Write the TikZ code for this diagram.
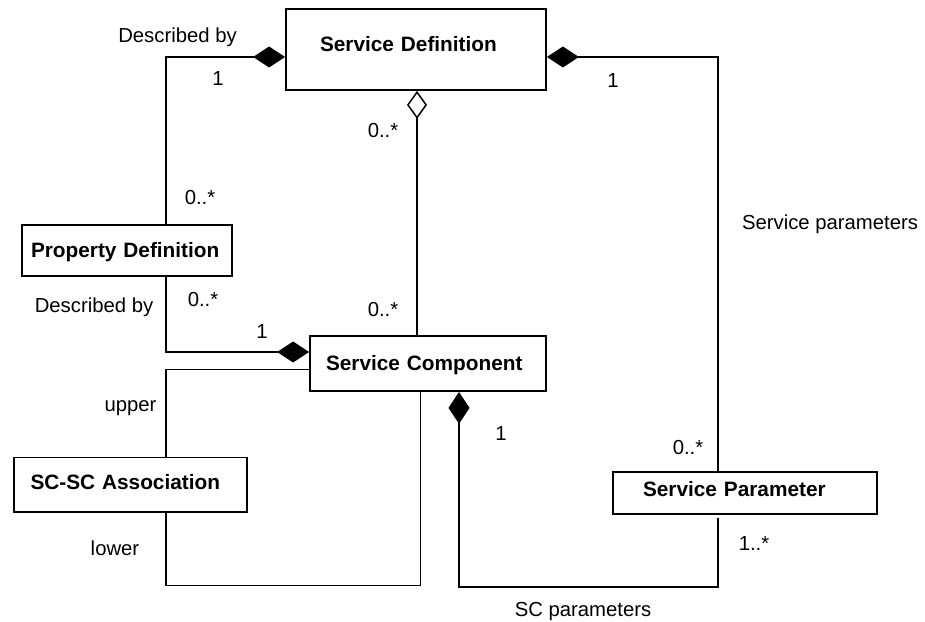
\documentclass[tikz,border=0pt]{standalone}
\usepackage{fontspec}
\setmainfont{Liberation Sans}
\usetikzlibrary{arrows.meta}
\begin{document}
\begin{tikzpicture}[x=1pt,y=1pt,
  box/.style={draw=black,line width=1.8pt,rectangle,inner ysep=0pt,align=left,
    font=\fontsize{20.8}{24}\selectfont\bfseries},
  lbl/.style={inner sep=0pt,anchor=base,font=\fontsize{20.3}{24}\selectfont},
  conn/.style={draw=black,line width=1.5pt},
  comp/.style={conn,arrows={Diamond[length=32pt,width=21pt]-}},
  agg/.style={conn,arrows={Diamond[open,length=28pt,width=20pt]-}}]
\useasboundingbox (0,0) rectangle (925,621);
% boxes
\node[box,inner xsep=34pt,text width=192pt,text height=42.7pt,text depth=38.3pt] (SD) at (416,571.5) {\mbox{Service Definition}};
\node[box,inner xsep=9pt,text width=192pt,text height=32.5pt,text depth=18.5pt] (PD) at (127,370.5) {\mbox{Property Definition}};
\node[box,inner xsep=16pt,text width=204pt,text height=35pt,text depth=20pt] (SC) at (428,257.5) {\mbox{Service Component}};
\node[box,inner xsep=16.5pt,text width=200pt,text height=31.7pt,text depth=22.5pt] (SCSC) at (130.5,136.4) {\mbox{SC-SC Association}};
\node[box,inner xsep=30pt,text width=204pt,text height=24.8pt,text depth=17.2pt] (SP) at (745,128) {\mbox{Service Parameter}};
% helper coordinates for bottom runs
\coordinate (low1) at (0,35.5);
\coordinate (low2) at (0,34);
% connectors
\draw[comp] ([yshift=-7.5pt]SD.west) -| ([xshift=39pt]PD.north);
\draw[agg] ([xshift=1pt]SD.south) -- ([xshift=1pt]SD.south |- SC.north);
\draw[comp] ([yshift=-7.5pt]SD.east) -| ([xshift=-27pt]SP.north);
\draw[comp] ([yshift=11.5pt]SC.west) -| ([xshift=39pt]PD.south);
\draw[conn] ([yshift=-6pt]SC.west) -| ([xshift=35.5pt]SCSC.north);
\draw[conn] ([xshift=35.5pt]SCSC.south) |- ([xshift=-7.5pt]SC.south |- low1) -- ([xshift=-7.5pt]SC.south);
\draw[comp] ([xshift=31pt]SC.south) -- ([xshift=31pt]SC.south |- low2) -| ([xshift=-27pt,yshift=-3pt]SP.south);
% labels
\node[lbl] (l1) at (177.5,578) {Described by};
\node[lbl] (l2) at (218,535) {1};
\node[lbl] (l3) at (383,483) {0..*};
\node[lbl] (l4) at (613,533) {1};
\node[lbl] (l5) at (200,416) {0..*};
\node[lbl] (l6) at (94,308) {Described by};
\node[lbl] (l7) at (203,314) {0..*};
\node[lbl] (l8) at (262,282) {1};
\node[lbl] (l9) at (383,304) {0..*};
\node[lbl] (l10) at (130.5,209.3) {upper};
\node[lbl] (l11) at (501,180.3) {1};
\node[lbl] (l12) at (688,166) {0..*};
\node[lbl] (l13) at (115,66) {lower};
\node[lbl] (l14) at (754,71) {1..*};
\node[lbl] (l15) at (583,5) {SC parameters};
\node[lbl] (l16) at (830,391.7) {Service parameters};
\end{tikzpicture}
\end{document}
